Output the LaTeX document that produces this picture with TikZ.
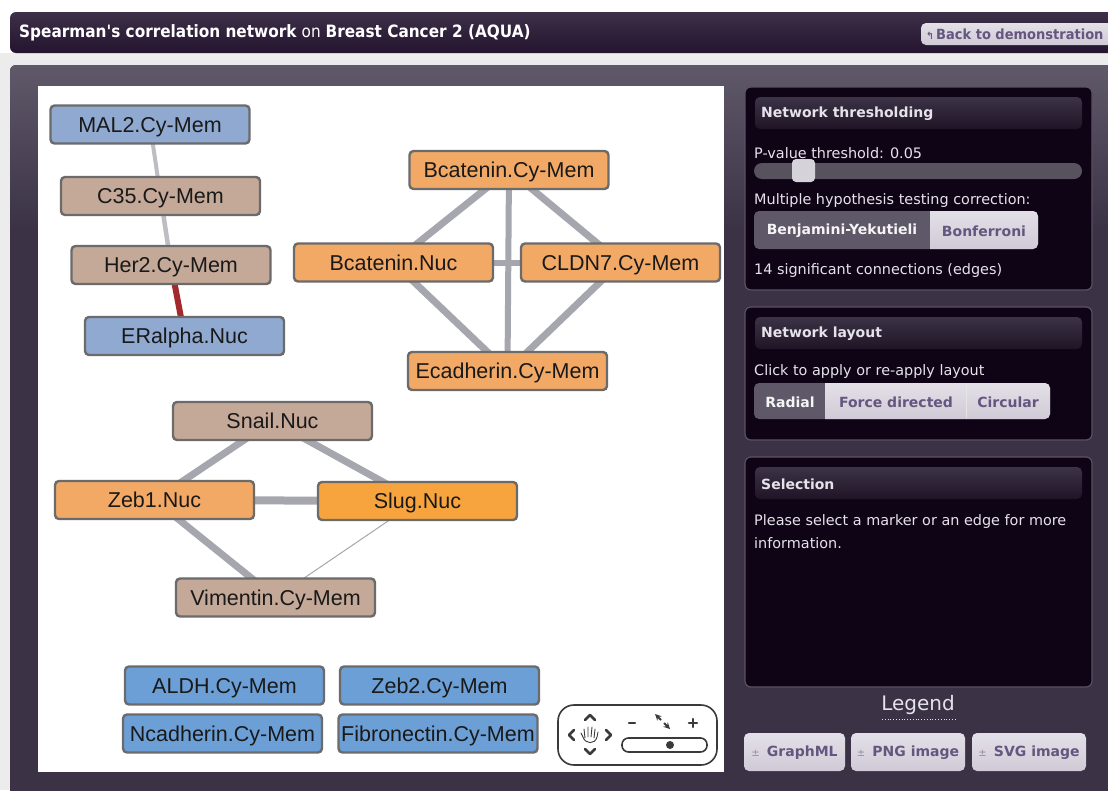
\documentclass[tikz,border=0pt]{standalone}
\usepackage{fontspec}
\setmainfont{Liberation Sans}
\newfontfamily\dv{DejaVu Sans}
\definecolor{blueA}{HTML}{8FA9D1}
\definecolor{blueB}{HTML}{6B9FD6}
\definecolor{tanc}{HTML}{C4A898}
\definecolor{orangeA}{HTML}{F2A966}
\definecolor{orangeB}{HTML}{F7A43F}
\definecolor{nborder}{HTML}{6B6B6B}
\definecolor{edgegray}{HTML}{A6A6AE}
\definecolor{edgelight}{HTML}{BDBDC2}
\definecolor{edgered}{HTML}{A4282D}
\definecolor{panelbg}{HTML}{0E0416}
\definecolor{panelborder}{HTML}{5B5163}
\definecolor{mainbg}{HTML}{3B3246}
\definecolor{maintop}{HTML}{605969}
\definecolor{titletop}{HTML}{3E3049}
\definecolor{titlebot}{HTML}{24142F}
\definecolor{hdrtop}{HTML}{3D3346}
\definecolor{hdrbot}{HTML}{1E1426}
\definecolor{btnlight}{HTML}{E4E0E8}
\definecolor{btnlight2}{HTML}{CFCAD5}
\definecolor{btndark}{HTML}{5E5868}
\definecolor{btntext}{HTML}{65567F}
\definecolor{paneltext}{HTML}{E6E2EA}
\definecolor{tracks}{HTML}{58525E}
\definecolor{knob}{HTML}{D6D2DA}
\definecolor{zoomc}{HTML}{3A3A3A}
\pgfdeclarelayer{bg}
\pgfdeclarelayer{edges}
\pgfsetlayers{bg,edges,main}
\tikzset{
  gnode/.style={draw=nborder, line width=2.4pt, rounded corners=4pt,
    minimum width=199, minimum height=38, inner sep=0pt, outer sep=0pt,
    text height=15pt, text depth=0pt,
    font=\fontsize{21.5}{24}\selectfont, text=black!90},
  gedge/.style={draw=edgegray, line width=7pt},
  ptext/.style={anchor=west, inner sep=0pt, text=paneltext, font=\dv\fontsize{14.4}{17}\selectfont},
  phead/.style={anchor=west, inner sep=0pt, text=paneltext, font=\dv\bfseries\fontsize{14}{17}\selectfont},
  btnlbl/.style={inner sep=0pt, font=\dv\bfseries\fontsize{14}{17}\selectfont},
  panel/.style={fill=panelbg, draw=panelborder, line width=1.2pt, rounded corners=6pt},
  header/.style={top color=hdrtop, bottom color=hdrbot, rounded corners=5pt},
  lbtn/.style={top color=btnlight, bottom color=btnlight2, rounded corners=5pt},
  zoomline/.style={draw=zoomc, line width=2.6pt, line cap=round, line join=round}
}
\begin{document}
\begin{tikzpicture}[x=1pt, y=-1pt]
\useasboundingbox (0,0) rectangle (1108,790);
\begin{pgfonlayer}{bg}
  % page
  \fill[white] (0,0) rectangle (1108,790);
  \fill[gray!15] (0,53) rectangle (1108,790);
  % title bar
  \shade[top color=titletop, bottom color=titlebot, rounded corners=6pt] (10,12) rectangle (1120,53);
  % main panel
  \fill[mainbg, rounded corners=6pt] (10,65) rectangle (1120,800);
  \shade[top color=maintop, bottom color=mainbg, rounded corners=6pt] (10,65) -- (1120,65) -- (1120,230) -- (10,230) -- cycle;
  % canvas
  \fill[white] (38,86) rectangle (724,772);
  % right panels
  \draw[panel] (745,87) rectangle (1092,290);
  \shade[header] (755,97) rectangle (1082,129);
  \draw[panel] (745,307) rectangle (1092,440);
  \shade[header] (755,317) rectangle (1082,349);
  \draw[panel] (745,457) rectangle (1092,687);
  \shade[header] (755,467) rectangle (1082,499);
  % slider
  \fill[tracks, rounded corners=8pt] (754,163) rectangle (1082,179);
  \fill[knob, rounded corners=4pt] (792,159) rectangle (815,182);
  % button group 1
  \fill[btndark, rounded corners=5pt] (754,211) rectangle (1038,249);
  \begin{scope}
    \clip (930,205) rectangle (1045,255);
    \shade[lbtn] (754,211) rectangle (1038,249);
  \end{scope}
  % button group 2
  \fill[btndark, rounded corners=5pt] (754,383) rectangle (1050,419);
  \begin{scope}
    \clip (825,378) rectangle (1055,425);
    \shade[lbtn] (754,383) rectangle (1050,419);
  \end{scope}
  \draw[white!80!gray, line width=0.8pt] (966,384) -- (966,418);
  % bottom buttons
  \shade[lbtn] (744,733) rectangle (845,771);
  \shade[lbtn] (851,733) rectangle (965,771);
  \shade[lbtn] (972,733) rectangle (1086,771);
  % back button
  \shade[lbtn] (921,23) rectangle (1115,45);
  % legend underline
  \draw[paneltext, dotted, line width=0.8pt] (882,719) -- (955,719);
  % zoom control
  \draw[zoomc, line width=1.6pt, rounded corners=16pt] (558,705) rectangle (717,765);
  \draw[zoomline] (585,720) -- (590,715) -- (595,720);
  \draw[zoomline] (585,749) -- (590,754) -- (595,749);
  \draw[zoomline] (574,730) -- (569,735) -- (574,740);
  \draw[zoomline] (606,730) -- (611,735) -- (606,740);
  % hand glyph (simplified)
  \draw[zoomc, line width=0.9pt, line cap=round, line join=round]
    (583,737) -- (581,733) (583,737) .. controls (585,744) and (595,745) .. (597,737)
    (585,738) -- (584,729) (588,737) -- (588,727) (591,737) -- (592,727) (594,738) -- (595,729) (597,737) -- (598,732);
  \draw[zoomline] (629,723) -- (635,723);
  \draw[zoomline] (689,723) -- (697,723) (693,719) -- (693,727);
  \draw[zoomc, line width=1.8pt, -stealth] (661,720) -- (655,714);
  \draw[zoomc, line width=1.8pt, -stealth] (664,723) -- (670,729);
  \draw[zoomc, line width=1.6pt, rounded corners=6.5pt] (622,738) rectangle (707,752);
  \fill[zoomc] (670,745) circle (4);
\end{pgfonlayer}

% title
\node[anchor=west, inner sep=0pt, text=white] (title) at (19,33)
  {\scalebox{0.9}[1]{\dv\fontsize{17}{20}\selectfont\textbf{Spearman's correlation network} on \textbf{Breast Cancer 2 (AQUA)}}};
\node[anchor=west, inner sep=0pt, text=btntext] (back) at (926,34)
  {\scalebox{0.93}[1]{\dv\bfseries\fontsize{14}{17}\selectfont {\fontsize{10}{12}\selectfont ↰}\,Back to demonstration}};

% right panel texts
\node[phead] (h1) at (761,114) {Network thresholding};
\node[ptext] (pv) at (754,153) {P-value threshold: 0.05};
\node[ptext] (mh) at (754,201) {Multiple hypothesis testing correction:};
\node[btnlbl, text=white!92!gray] (by) at (842,231) {Benjamini-Yekutieli};
\node[btnlbl, text=btntext] (bf) at (984,231) {Bonferroni};
\node[ptext] (sig) at (754,271) {14 significant connections (edges)};
\node[phead] (h2) at (761,333.5) {Network layout};
\node[ptext] (cl) at (754,372) {Click to apply or re-apply layout};
\node[btnlbl, text=white!92!gray] (rad) at (790,402) {Radial};
\node[btnlbl, text=btntext] (fd) at (896,402) {Force directed};
\node[btnlbl, text=btntext] (circ) at (1008,402) {Circular};
\node[phead] (h3) at (761,484) {Selection};
\node[ptext] (sel1) at (754,522) {Please select a marker or an edge for more};
\node[ptext] (sel2) at (754,543) {information.};
\node[inner sep=0pt, text=paneltext, font=\dv\fontsize{20}{23}\selectfont] (leg) at (918,705) {Legend};
\node[btnlbl, text=btntext] (gml) at (794.5,752.5) {{\mdseries\fontsize{10}{12}\selectfont\color{btntext!70}±}\, GraphML};
\node[btnlbl, text=btntext] (png) at (908,752.5) {{\mdseries\fontsize{10}{12}\selectfont\color{btntext!70}±}\, PNG image};
\node[btnlbl, text=btntext] (svg) at (1029,752.5) {{\mdseries\fontsize{10}{12}\selectfont\color{btntext!70}±}\, SVG image};

% network nodes
\node[gnode, fill=blueA] (mal2) at (150,124.5) {MAL2.Cy-Mem};
\node[gnode, fill=tanc] (c35) at (160.5,196) {C35.Cy-Mem};
\node[gnode, fill=tanc] (her2) at (171,265) {Her2.Cy-Mem};
\node[gnode, fill=blueA] (era) at (184.5,336) {ERalpha.Nuc};
\node[gnode, fill=orangeA] (bcy) at (509,170) {Bcatenin.Cy-Mem};
\node[gnode, fill=orangeA] (bnuc) at (393.5,262.5) {Bcatenin.Nuc};
\node[gnode, fill=orangeA] (cldn) at (620.5,262.5) {CLDN7.Cy-Mem};
\node[gnode, fill=orangeA] (ecad) at (507.5,371) {Ecadherin.Cy-Mem};
\node[gnode, fill=tanc] (snail) at (272.5,421) {Snail.Nuc};
\node[gnode, fill=orangeA] (zeb1) at (154.5,500) {Zeb1.Nuc};
\node[gnode, fill=orangeB] (slug) at (417.5,501) {Slug.Nuc};
\node[gnode, fill=tanc] (vim) at (275.5,597.5) {Vimentin.Cy-Mem};
\node[gnode, fill=blueB] (aldh) at (224.5,685.5) {ALDH.Cy-Mem};
\node[gnode, fill=blueB] (zeb2) at (439.5,685.5) {Zeb2.Cy-Mem};
\node[gnode, fill=blueB] (ncad) at (222.5,733.5) {Ncadherin.Cy-Mem};
\node[gnode, fill=blueB] (fibro) at (438,733.5) {Fibronectin.Cy-Mem};

% edges
\begin{pgfonlayer}{edges}
  \draw[draw=edgelight, line width=4pt] (mal2.center) -- (c35.center);
  \draw[draw=edgelight, line width=4.5pt] (c35.center) -- (her2.center);
  \draw[draw=edgered, line width=6pt] (her2.center) -- (era.center);
  \draw[gedge] (bcy.center) -- (bnuc.center);
  \draw[gedge] (bcy.center) -- (cldn.center);
  \draw[gedge, line width=6pt] (bcy.center) -- (ecad.center);
  \draw[gedge, line width=6pt] (bnuc.center) -- (cldn.center);
  \draw[gedge] (bnuc.center) -- (ecad.center);
  \draw[gedge] (cldn.center) -- (ecad.center);
  \draw[gedge] (snail.center) -- (zeb1.center);
  \draw[gedge] (snail.center) -- (slug.center);
  \draw[gedge, line width=8pt] (zeb1.center) -- (slug.center);
  \draw[gedge] (zeb1.center) -- (vim.center);
  \draw[draw=edgegray, line width=1pt] (slug.center) -- (vim.center);
\end{pgfonlayer}
\end{tikzpicture}
\end{document}
